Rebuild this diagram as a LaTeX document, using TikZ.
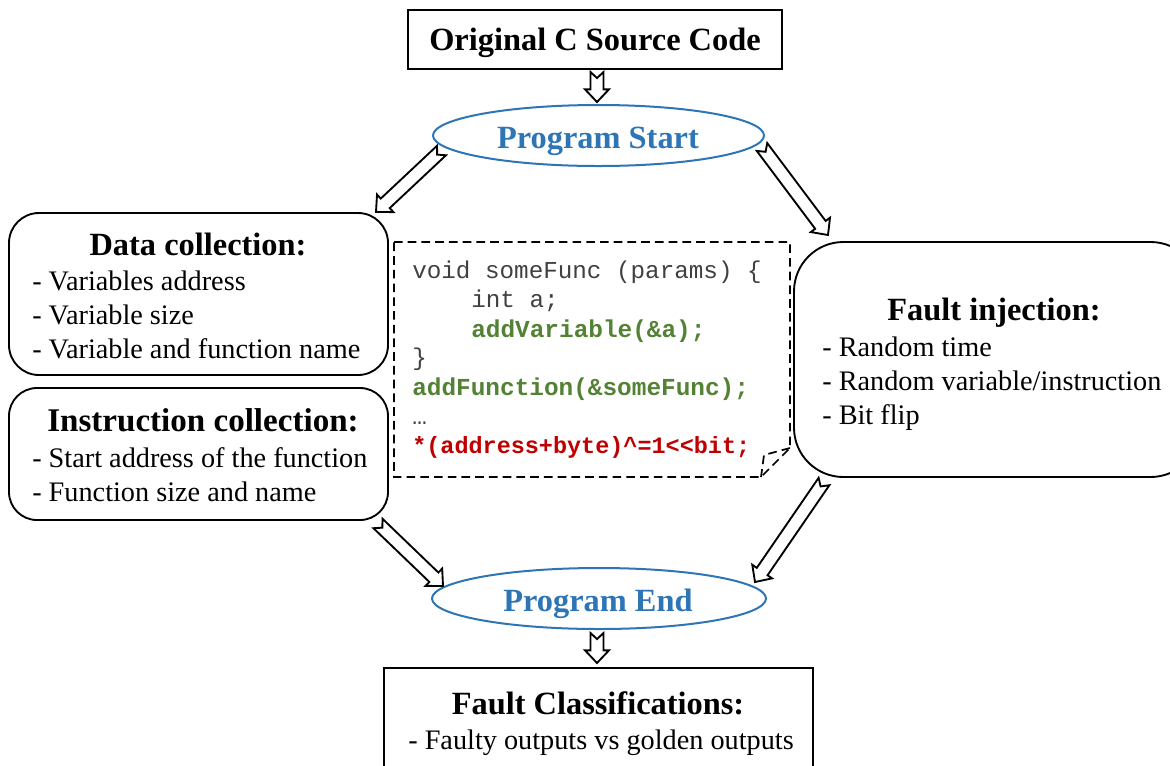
\documentclass[tikz,border=0pt]{standalone}
\usepackage{fontspec}
\setmainfont{Liberation Serif}
\setmonofont{Liberation Mono}
\usetikzlibrary{calc,shapes.geometric}
\definecolor{progblue}{HTML}{2E75B6}
\definecolor{codegreen}{HTML}{548235}
\definecolor{codered}{HTML}{C00000}
\definecolor{codegray}{HTML}{404040}
\newcommand{\blockarrow}[2]{%
  \coordinate (ba-n) at ($(#2)!9.5pt!(#1)$);
  \coordinate (ba-m) at ($(#1)!4.5pt!(#2)$);
  \draw[flowarrow]
    ($(#1)!4.9pt!90:(#2)$) -- ($(ba-n)!4.9pt!90:(#2)$) -- ($(ba-n)!9pt!90:(#2)$) -- (#2)
    -- ($(ba-n)!9pt!-90:(#2)$) -- ($(ba-n)!4.9pt!-90:(#2)$) -- ($(#1)!4.9pt!-90:(#2)$)
    -- (ba-m) -- cycle;
}
\tikzset{
  x=0.75pt, y=-0.75pt,
  flowarrow/.style={draw=black, fill=white, line width=1.4pt, line join=miter},
  plainbox/.style={draw=black, fill=white, line width=1.5pt},
  roundbox/.style={draw=black, fill=white, line width=1.4pt},
  progoval/.style={draw=progblue, fill=white, line width=1.5pt},
  heading/.style={anchor=base, inner sep=0pt, font=\fontsize{24.3pt}{28pt}\selectfont\bfseries},
  proghead/.style={anchor=base, inner sep=0pt, text=progblue, font=\fontsize{24.3pt}{28pt}\selectfont\bfseries},
  item/.style={anchor=base west, inner sep=0pt, font=\fontsize{21.2pt}{24pt}\selectfont},
  code/.style={anchor=base west, inner sep=0pt, text=codegray, font=\fontsize{18.2pt}{22pt}\selectfont\ttfamily},
  codeg/.style={code, text=codegreen, font=\fontsize{18.3pt}{22pt}\selectfont\ttfamily\bfseries},
  coder/.style={code, text=codered, font=\fontsize{17.6pt}{22pt}\selectfont\ttfamily\bfseries},
}
\begin{document}
\begin{tikzpicture}
\useasboundingbox (0,0) rectangle (1170,765);
\clip (0,0) rectangle (1170,765);
% boxes
\draw[plainbox] (408,10) rectangle (782,69);
\draw[plainbox] (384,668) rectangle (813,780);
\draw[progoval] (598.5,135.5) ellipse [x radius=165.5, y radius=30.5];
\draw[progoval] (599,598.5) ellipse [x radius=167, y radius=30.5];
\draw[roundbox, rounded corners=22.5pt] (9,213) rectangle (388,375);
\draw[roundbox, rounded corners=21pt] (9,388) rectangle (388,520);
\draw[roundbox, rounded corners=37pt] (794,242) rectangle (1200,477);
% code box
\draw[black, line width=1.3pt, dash pattern=on 6.5pt off 3.8pt]
  (394,242) -- (790,242) -- (790,448) -- (761,477) -- (394,477) -- cycle;
\draw[black, line width=1.3pt, dash pattern=on 6.5pt off 3.8pt]
  (790,448) -- (764,455) -- (761,477);
% text
\node[heading] (title) at (595,50) {Original C Source Code};
\node[proghead] (pstart) at (598,148) {Program Start};
\node[proghead] (pend) at (598,611) {Program End};
\node[heading] (dhead) at (198,255) {Data collection:};
\node[item] (d1) at (32,290) {- Variables address};
\node[item] (d2) at (32,324) {- Variable size};
\node[item] (d3) at (32,358) {- Variable and function name};
\node[heading, font=\fontsize{24.8pt}{28pt}\selectfont\bfseries] (ihead) at (203,431) {Instruction collection:};
\node[item] (i1) at (32,467) {- Start address of the function};
\node[item] (i2) at (32,501) {- Function size and name};
\node[heading] (fhead) at (994,320) {Fault injection:};
\node[item] (f1) at (822,356) {- Random time};
\node[item] (f2) at (822,390) {- Random variable/instruction};
\node[item] (f3) at (822,424) {- Bit flip};
\node[heading] (chead) at (598,714) {Fault Classifications:};
\node[item] (c1) at (408,749) {- Faulty outputs vs golden outputs};
\node[code] (l1) at (412,278) {void someFunc (params) \{};
\node[code] (l2) at (471,307) {int a;};
\node[codeg] (l3) at (471,337) {addVariable(\&a);};
\node[code] (l4) at (412,365) {\}};
\node[codeg] (l5) at (412,395) {addFunction(\&someFunc);};
\node[code] (l6) at (412,424) {…};
\node[coder] (l7) at (412,453) {*(address+byte)\textasciicircum =1<{}<bit;};
% connector ends
\coordinate (a1s) at (597,72);   \coordinate (a1e) at (597,102);
\coordinate (a2s) at (441.5,150.5); \coordinate (a2e) at (376,212);
\coordinate (a3s) at (762,147);  \coordinate (a3e) at (828,235);
\coordinate (a4s) at (378,523.5); \coordinate (a4e) at (443,586);
\coordinate (a5s) at (824,481.5); \coordinate (a5e) at (755,582);
\coordinate (a6s) at (597,633);  \coordinate (a6e) at (597,663);
\blockarrow{a1s}{a1e}
\blockarrow{a2s}{a2e}
\blockarrow{a3s}{a3e}
\blockarrow{a4s}{a4e}
\blockarrow{a5s}{a5e}
\blockarrow{a6s}{a6e}
\end{tikzpicture}
\end{document}
